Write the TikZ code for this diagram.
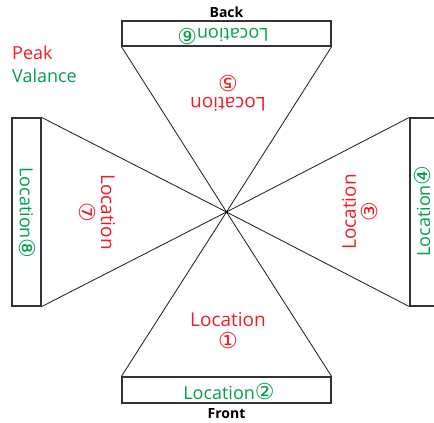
\documentclass[tikz,border=0pt]{standalone}
\usepackage{fontspec}
\setmainfont{Open Sans}
\newfontfamily\circfont{DejaVu Sans}
\usepackage{xcolor}
\usetikzlibrary{positioning}

\definecolor{peakred}{RGB}{237,28,36}
\definecolor{valgreen}{RGB}{0,160,75}
\newcommand{\cnum}[1]{{\circfont\fontsize{22}{22}\selectfont #1}}

\begin{document}
\begin{tikzpicture}[x=1pt, y=-1pt,
    zonebox/.style={draw=black!80, line width=1.2pt, inner sep=0pt},
    wedge/.style={draw=black!90, line width=0.8pt},
    peaklbl/.style={text=peakred, align=center, inner sep=0pt, font=\fontsize{19}{22}\selectfont},
    vallbl/.style={text=valgreen, inner sep=0pt, font=\fontsize{18}{20}\selectfont},
    sidelbl/.style={inner sep=0pt, font=\bfseries\fontsize{14}{16}\selectfont}]
    \useasboundingbox (0,0) rectangle (434,423);
    % =========================================================
    % BOXES AND WEDGES
    % =========================================================
    \coordinate (c) at (226.5,212);
    \node[zonebox, minimum width=209pt, minimum height=25pt] (backbox) at (226.5,33.5) {};
    \node[zonebox, minimum width=209pt, minimum height=26pt] (frontbox) at (226.5,390) {};
    \node[zonebox, minimum width=29pt, minimum height=188pt] (leftbox) at (26.5,212) {};
    \node[zonebox, minimum width=29pt, minimum height=188pt] (rightbox) at (424.5,212) {};

    \draw[wedge] (backbox.south west) -- (c) -- (backbox.south east);
    \draw[wedge] (frontbox.north west) -- (c) -- (frontbox.north east);
    \draw[wedge] (leftbox.north east) -- (c) -- (leftbox.south east);
    \draw[wedge] (rightbox.north west) -- (c) -- (rightbox.south west);

    % =========================================================
    % LABELS
    % =========================================================
    \node[sidelbl] (backlbl) at (226.5,12) {Back};
    \node[sidelbl] (frontlbl) at (226.5,414) {Front};

    \node[peaklbl] (loc1) at (228,331) {Location\\\cnum{①}};
    \node[vallbl] (loc2) at (229,391) {Location\cnum{②}};
    \node[peaklbl, rotate=90] (loc3) at (360,212) {Location\\\cnum{③}};
    \node[vallbl, rotate=90] (loc4) at (422,211) {Location\cnum{④}};
    \node[peaklbl, rotate=180] (loc5) at (228,93) {Location\\\cnum{⑤}};
    \node[vallbl, rotate=180] (loc6) at (223,36.5) {Location\cnum{⑥}};
    \node[peaklbl, rotate=-90] (loc7) at (97,212) {Location\\\cnum{⑦}};
    \node[vallbl, rotate=-90] (loc8) at (28,213) {Location\cnum{⑧}};

    \node[text=peakred, anchor=base west, inner sep=0pt, font=\fontsize{18}{20}\selectfont] (peak) at (12,59) {Peak};
    \node[text=valgreen, anchor=base west, inner sep=0pt, font=\fontsize{18}{20}\selectfont] (valance) at (12,82) {Valance};
\end{tikzpicture}
\end{document}
